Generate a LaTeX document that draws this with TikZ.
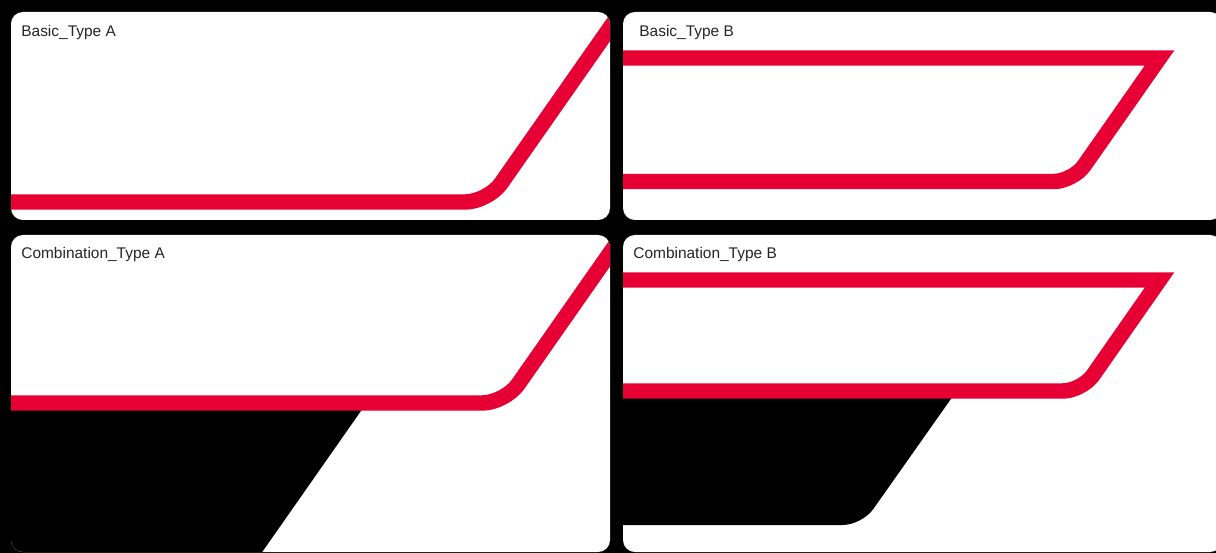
\documentclass[tikz,border=0pt]{standalone}
\usepackage{fontspec}
\setmainfont{Liberation Sans}
\definecolor{signalred}{RGB}{230,0,51}
\newcommand*{\card}[4]{%
\fill[white, rounded corners=6.8pt] (#1,#2) rectangle (#3,#4);
\clip[rounded corners=6.8pt] (#1,#2) rectangle (#3,#4);}

\begin{document}
\begin{tikzpicture}[x=0.02cm, y=-0.02cm,
  band/.style={signalred, line width=8.8pt},
  title/.style={anchor=west, inner sep=0pt, text=black!85, font=\fontsize{8.8}{10}\selectfont}]

\def\slnt{0.7}

\fill[black] (0,0) rectangle (1216,553);
\useasboundingbox (0,0) rectangle (1216,553);

\begin{scope}
  \card{11}{12}{610}{220}
  \draw[band, rounded corners=13pt] (0,202) -- (488,202) -- ({488+240*\slnt},-38);
\end{scope}
\node[title] (basicA) at (21,33) {Basic\_Type A};

\begin{scope}
  \card{623}{12}{1222}{220}
  \draw[band] (600,58) -- (1159.5,58) [rounded corners=11pt] -- (1073,181.5) -- (600,181.5);
\end{scope}
\node[title] (basicB) at (639,33) {Basic\_Type B};

\begin{scope}
  \card{11}{235}{610}{552}
  \fill[black] (0,408) -- (363,408) -- ({363-200*\slnt},608) -- (0,608) -- cycle;
  \draw[band, rounded corners=13pt] (0,403) -- (505,403) -- ({505+450*\slnt},-47);
\end{scope}
\node[title] (comboA) at (21,255) {Combination\_Type A};

\begin{scope}
  \card{623}{235}{1222}{552}
  \fill[black] (600,396) -- (953,396) [rounded corners=11pt] -- (862,525) [sharp corners] -- (600,525) -- cycle;
  \draw[band] (600,280) -- (1159.5,280) [rounded corners=11pt] -- (1082,391) -- (600,391);
\end{scope}
\node[title] (comboB) at (633,255) {Combination\_Type B};

\end{tikzpicture}
\end{document}
